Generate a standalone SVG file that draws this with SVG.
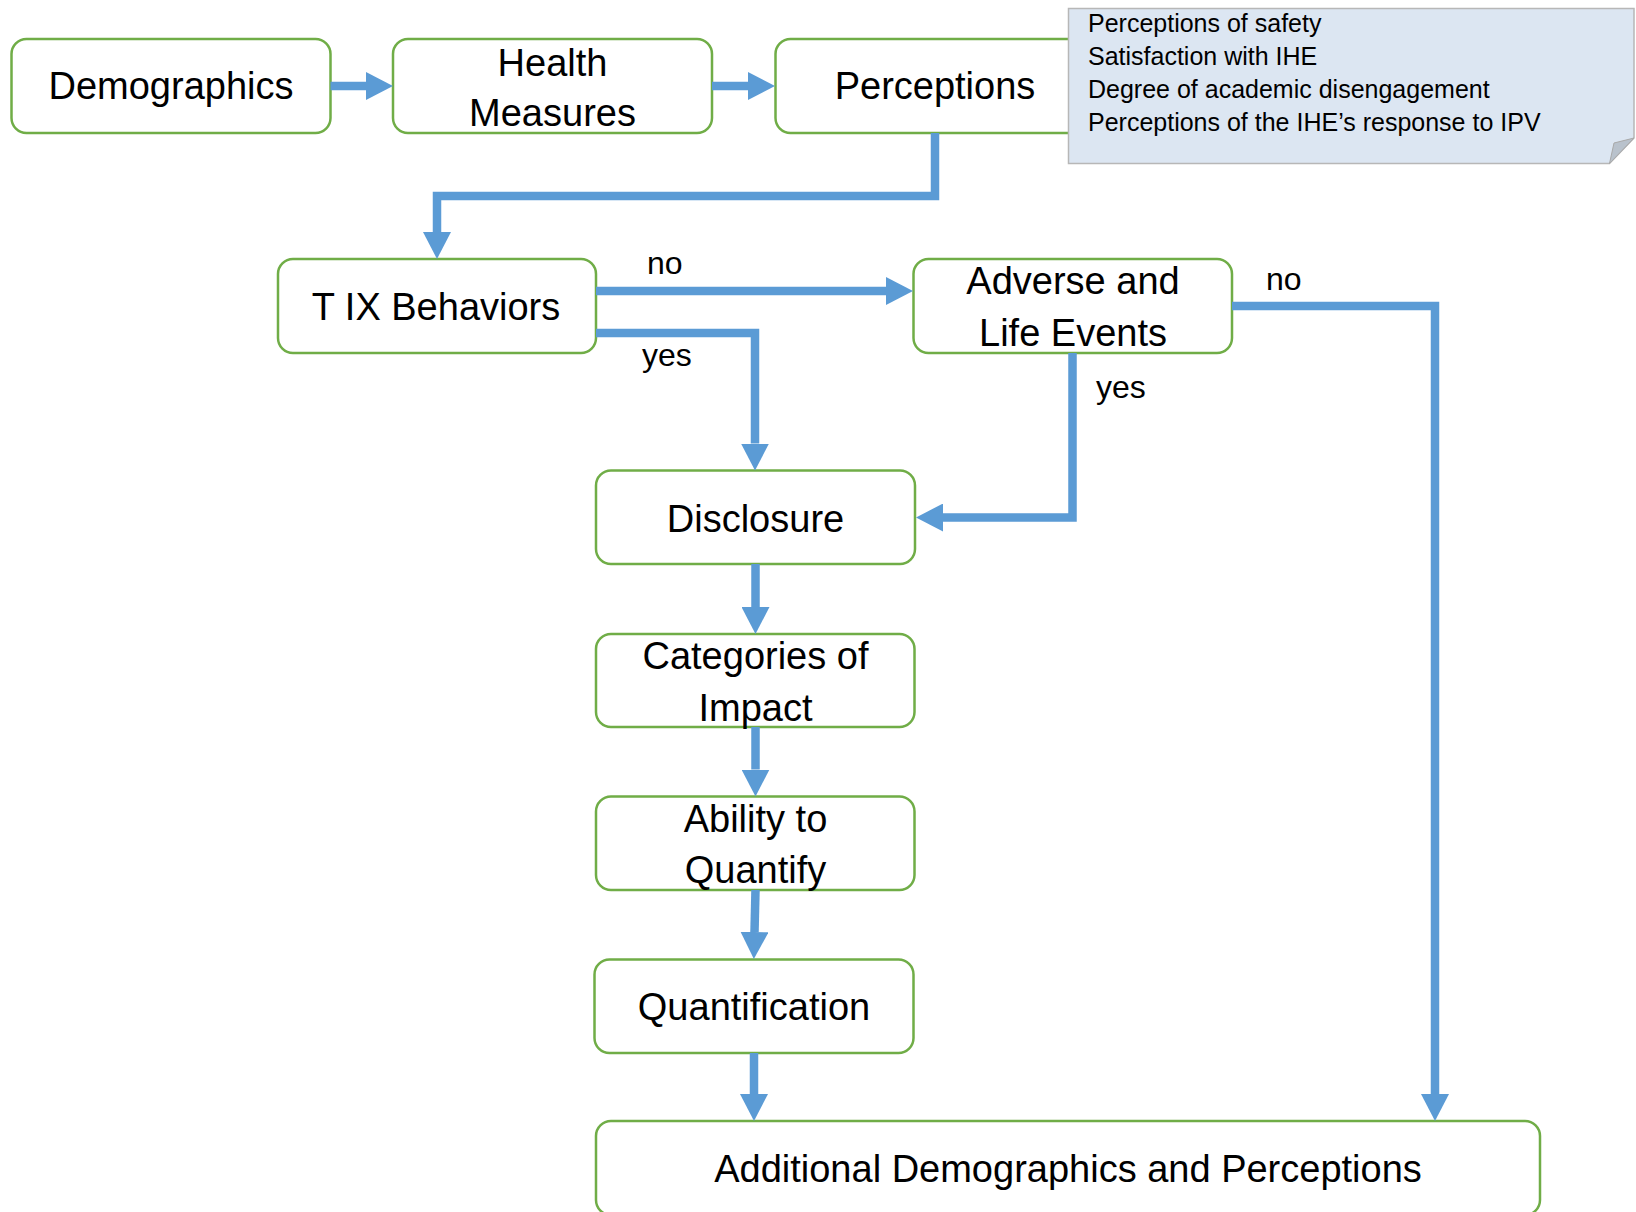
<svg xmlns="http://www.w3.org/2000/svg" width="1636" height="1212" viewBox="0 0 1636 1212">
  <defs>
    <style>
      .node rect { fill: #ffffff; stroke: #70ad47; stroke-width: 2.5; }
      .node text { font-family: "Liberation Sans", Arial, sans-serif; font-size: 38px; fill: #000000; text-anchor: middle; }
      .conn path { fill: none; stroke: #5b9bd5; stroke-width: 8.5; stroke-linejoin: miter; marker-end: url(#ah); }
      .lbl { font-family: "Liberation Sans", Arial, sans-serif; font-size: 32px; fill: #000000; }
      .note-text { font-family: "Liberation Sans", Arial, sans-serif; font-size: 25px; fill: #000000; }
    </style>
    <marker id="ah" markerUnits="userSpaceOnUse" markerWidth="28" markerHeight="28" refX="0" refY="14" orient="auto">
      <path d="M0 0 L27 14 L0 28 Z" fill="#5b9bd5"/>
    </marker>
  </defs>

  <rect x="0" y="0" width="1636" height="1212" fill="#ffffff"/>

  <!-- flowchart boxes -->
  <g id="demographics" class="node">
    <rect x="11.5" y="39" width="319" height="94" rx="15"/>
    <text x="171" y="99">Demographics</text>
  </g>
  <g id="health-measures" class="node">
    <rect x="393" y="39" width="319" height="94" rx="15"/>
    <text x="552.5" y="76">Health</text>
    <text x="552.5" y="126">Measures</text>
  </g>
  <g id="perceptions" class="node">
    <rect x="775.5" y="39" width="319" height="94" rx="15"/>
    <text x="935" y="99">Perceptions</text>
  </g>
  <g id="t-ix-behaviors" class="node">
    <rect x="278" y="259" width="318" height="94" rx="15"/>
    <text x="436" y="320">T IX Behaviors</text>
  </g>
  <g id="adverse-life-events" class="node">
    <rect x="913.5" y="259" width="318.5" height="94" rx="15"/>
    <text x="1073" y="294">Adverse and</text>
    <text x="1073" y="346">Life Events</text>
  </g>
  <g id="disclosure" class="node">
    <rect x="596" y="470.5" width="319" height="93.5" rx="15"/>
    <text x="755.5" y="532">Disclosure</text>
  </g>
  <g id="categories-of-impact" class="node">
    <rect x="596" y="634" width="318.5" height="93" rx="15"/>
    <text x="755.5" y="669">Categories of</text>
    <text x="755.5" y="721">Impact</text>
  </g>
  <g id="ability-to-quantify" class="node">
    <rect x="596" y="796.5" width="318.5" height="93.5" rx="15"/>
    <text x="755.5" y="832">Ability to</text>
    <text x="755.5" y="883">Quantify</text>
  </g>
  <g id="quantification" class="node">
    <rect x="594.5" y="959.5" width="319" height="93.5" rx="15"/>
    <text x="754" y="1020">Quantification</text>
  </g>
  <g id="additional-demographics" class="node">
    <rect x="596" y="1121" width="944" height="94" rx="15"/>
    <text x="1068" y="1182">Additional Demographics and Perceptions</text>
  </g>

  <!-- callout listing what the perceptions block covers -->
  <g id="perceptions-note">
    <path d="M1068.5 8.5 H1634 V138 L1609.5 163.5 H1068.5 Z" fill="#dce6f2" stroke="#b7b7b7" stroke-width="1.5"/>
    <path d="M1634 138 L1614 143 L1609.5 163.5 Z" fill="#b9c2cc" stroke="#a9a9a9" stroke-width="1"/>
    <text class="note-text" x="1088" y="32">Perceptions of safety</text>
    <text class="note-text" x="1088" y="65">Satisfaction with IHE</text>
    <text class="note-text" x="1088" y="98">Degree of academic disengagement</text>
    <text class="note-text" x="1088" y="131">Perceptions of the IHE’s response to IPV</text>
  </g>

  <!-- arrows between boxes -->
  <g id="connectors" class="conn">
    <path d="M330.5 86 H366"/>
    <path d="M712 86 H748"/>
    <path d="M935 133 V196 H437 V232"/>
    <path d="M596 291 H886"/>
    <path d="M596 333 H755 V443.5"/>
    <path d="M1072.5 353 V517.5 H943"/>
    <path d="M1232 306 H1435 V1094"/>
    <path d="M755.5 564 V607"/>
    <path d="M755.5 727 V769.5"/>
    <path d="M755.5 890 L754.5 932"/>
    <path d="M754 1053 V1094"/>
  </g>

  <!-- branch labels -->
  <g id="labels">
    <text class="lbl" x="647" y="274">no</text>
    <text class="lbl" x="642" y="366">yes</text>
    <text class="lbl" x="1096" y="398">yes</text>
    <text class="lbl" x="1266" y="290">no</text>
  </g>
</svg>
